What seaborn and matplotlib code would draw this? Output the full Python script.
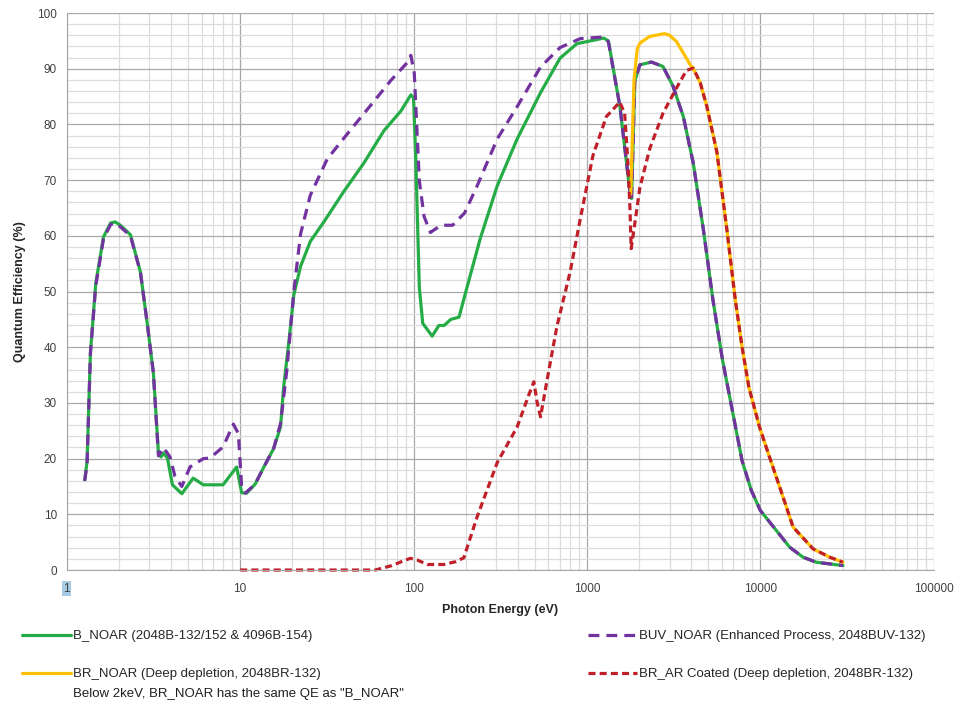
import pandas as pd
import seaborn as sns
import matplotlib.pyplot as plt
from matplotlib.ticker import MultipleLocator, LogLocator, NullFormatter

# photon energy (eV) / quantum efficiency (%)
b_noar_x = [1.27, 1.31, 1.37, 1.47, 1.63, 1.79, 1.9, 2.04, 2.33, 2.66, 2.92, 3.16, 3.38,
            3.5, 3.61, 3.81, 4.07, 4.61, 5.36, 6.13, 7.97, 9.55, 10.2, 10.9, 12.2, 13.6,
            15.6, 17.1, 17.8, 19.1, 20.4, 22.3, 25.4, 30.4, 39.7, 51.8, 67.6, 84.5, 96.5,
            100, 103, 108, 113, 128, 140, 150, 164, 183, 204, 243, 304, 396, 540, 700,
            876, 1250, 1330, 1550, 1780, 1809, 1888, 2019, 2357, 2745, 3135, 3597, 4107,
            4700, 5335, 6060, 6900, 7850, 8870, 10000, 12370, 14770, 17630, 21040, 29960]
b_noar_y = [16.2, 19.5, 39, 51.5, 59.8, 62.3, 62.5, 61.9, 60.2, 53.5, 44, 35.4, 21,
            20.3, 21, 20.1, 15.3, 13.7, 16.5, 15.3, 15.3, 18.5, 13.9, 13.8, 15.4, 18.3,
            21.8, 25.7, 32.7, 41, 49.4, 54.5, 59, 62.5, 68, 73.1, 78.9, 82.4, 85.3,
            84.8, 74, 50.7, 44.3, 42, 43.9, 43.9, 45, 45.4, 50.9, 59.6, 69, 77.4, 85.7, 91.9,
            94.5, 95.5, 95, 83.2, 67.3, 66.7, 87.8, 90.7, 91.2, 90.4, 86.9, 81.4, 73,
            61, 48.4, 37.6, 28.6, 19.6, 14.3, 10.7, 7.1, 4.1, 2.3, 1.4, 0.8]

buv_noar_x = [1.27, 1.31, 1.37, 1.47, 1.63, 1.79, 1.9, 2.04, 2.33, 2.66, 2.92, 3.16, 3.38,
              3.61, 3.94, 4.21, 4.61, 5.14, 6.14, 6.7, 7.97, 9.14, 9.77, 10.2, 10.7, 12.2,
              13.6, 15.6, 17.1, 18.6, 20.4, 22.3, 25.4, 31.8, 41.5, 56.5, 74, 92, 96.5,
              101, 105, 108, 115, 125, 144, 168, 197, 233, 304, 396, 540, 700, 915, 1250,
              1330, 1550, 1780, 1809, 1888, 2019, 2357, 2745, 3135, 3597, 4107, 4700, 5335,
              6060, 6900, 7850, 8870, 10000, 12370, 14770, 17630, 21040, 29960]
buv_noar_y = [16, 19, 39, 51, 59.5, 62, 62.3, 61.6, 60, 53.5, 44, 35.4, 20.5,
              22, 20.3, 16.8, 15, 18.5, 20, 20.1, 22.1, 26.2, 24.5, 15, 13.8, 15.4,
              18.3, 21.8, 26.3, 35.9, 50, 60.3, 67.3, 73.8, 78.3, 83.4, 87.9, 91.1, 92.4,
              89.2, 78, 69.9, 63.5, 60.6, 61.9, 61.9, 64.1, 69, 77.4, 83.2, 90.3, 93.8, 95.4, 95.7,
              94.8, 83.2, 67.3, 66.7, 87.8, 90.7, 91.2, 90.4, 86.9, 81.4, 73, 61, 48.4,
              37.6, 28.6, 19.6, 14.3, 10.7, 7.1, 4.1, 2.3, 1.4, 0.8]

br_noar_x = [1790, 1830, 1870, 1950, 2019, 2300, 2805, 3000, 3280, 3600, 3925, 4107, 4500,
             4910, 5620, 6420, 7180, 7850, 8590, 9910, 11320, 12930, 15460, 20150, 25160, 29960]
br_noar_y = [67.5, 78, 88, 93.5, 94.6, 95.8, 96.3, 96, 94.9, 92.8, 90.8, 90, 87.5,
             83.3, 75, 61, 48.4, 40, 32.8, 25.6, 20.2, 14.9, 7.7, 3.8, 2.3, 1.4]

br_ar_x = [10, 20, 40, 60, 75, 90, 96, 105, 120, 150, 175, 195, 233, 304, 396, 463, 494,
           517, 540, 589, 672, 800, 915, 1083, 1294, 1545, 1650, 1724, 1770, 1800, 1888,
           2019, 2300, 2745, 3280, 3750, 4107, 4500, 4910, 5620, 6420, 7180, 7850, 8590,
           9910, 11320, 12930, 15460, 20150, 25160, 29960]
br_ar_y = [0, 0, 0, 0, 0.8, 1.8, 2.1, 1.8, 1.0, 1.0, 1.5, 2.2, 9.6, 19.3, 25.7, 31.5, 33.8,
           30, 27.5, 34.1, 43.8, 53.5, 63, 74.4, 81.4, 84, 82, 73.1, 65, 57.7, 62.2,
           68.6, 75.6, 82, 86.5, 89.7, 90.1, 87.5, 83.3, 75, 61, 48.4, 40, 32.8,
           25.6, 20.2, 14.9, 7.7, 3.8, 2.3, 1.4]

x_ticks = [1, 10, 100, 1000, 10000, 100000]
x_tick_labels = ['1', '10', '100', '1000', '10000', '100000']

sns.set_style('white')
plt.rcParams['font.family'] = ['Liberation Sans', 'DejaVu Sans']

fig, ax = plt.subplots(figsize=(9.56, 7.04), dpi=100)
fig.subplots_adjust(left=0.0698, right=0.9767, bottom=0.1903, top=0.9815)

lw = 2.3
joins = dict(solid_joinstyle='round', dash_joinstyle='round', solid_capstyle='round')
sns.lineplot(x=b_noar_x, y=b_noar_y, ax=ax, color='#26ac46', lw=lw, estimator=None, sort=False,
             label='B_NOAR (2048B-132/152 & 4096B-154)', **joins)
sns.lineplot(x=buv_noar_x, y=buv_noar_y, ax=ax, color='#7232a0', lw=lw, estimator=None, sort=False,
             linestyle=(0, (3.4, 2.2)), label='BUV_NOAR (Enhanced Process, 2048BUV-132)', **joins)
sns.lineplot(x=br_noar_x, y=br_noar_y, ax=ax, color='#ffc000', lw=lw, estimator=None, sort=False,
             label='BR_NOAR (Deep depletion, 2048BR-132)', **joins)
sns.lineplot(x=br_ar_x, y=br_ar_y, ax=ax, color='#c0202a', lw=lw, estimator=None, sort=False,
             linestyle=(0, (2.2, 1.3)), clip_on=False,
             label='BR_AR Coated (Deep depletion, 2048BR-132)', **joins)
ax.get_legend().remove()

ax.set_xscale('log')
ax.set_xlim(1, 100000)
ax.set_ylim(0, 100)
ax.set_xticks(x_ticks)
ax.set_xticklabels(x_tick_labels)
ax.xaxis.set_minor_locator(LogLocator(base=10, subs=range(2, 10), numticks=20))
ax.xaxis.set_minor_formatter(NullFormatter())
ax.yaxis.set_major_locator(MultipleLocator(10))
ax.yaxis.set_minor_locator(MultipleLocator(2))

ax.grid(which='major', color='#a8a8a8', lw=0.9)
ax.grid(which='minor', color='#dcdcdc', lw=0.9)
ax.set_axisbelow(True)
for s in ['top', 'right']:
    ax.spines[s].set_visible(False)
for s in ['left', 'bottom']:
    ax.spines[s].set_color('#a6a6a6')
ax.tick_params(which='major', length=4, color='#a6a6a6', labelsize=8.5, labelcolor='#404040', pad=3)
ax.tick_params(which='minor', length=0)
ax.tick_params(axis='x', pad=5)
ax.get_xticklabels()[0].set_bbox(dict(facecolor='#a6cbe3', edgecolor='none', pad=1))

ax.set_xlabel('Photon Energy (eV)', fontsize=9, fontweight='bold', labelpad=7)
ax.set_ylabel('Quantum Efficiency (%)', fontsize=9, fontweight='bold', labelpad=8)

h, l = ax.get_legend_handles_labels()
leg_kw = dict(frameon=False, fontsize=9.5, handlelength=3.7, handletextpad=0.15,
              labelspacing=1.95, borderpad=0, borderaxespad=0, loc='upper left')
leg1 = fig.legend([h[0], h[2]], [l[0], l[2]], bbox_to_anchor=(22 / 956, 1 - 630 / 704), **leg_kw)
leg2 = fig.legend([h[1], h[3]], [l[1], l[3]], bbox_to_anchor=(588 / 956, 1 - 630 / 704), **leg_kw)

fig.text(73 / 956, 1 - 694 / 704, 'Below 2keV, BR_NOAR has the same QE as "B_NOAR"',
         fontsize=9.5, va='center', ha='left', color='#202020')

plt.savefig('out.png', dpi=100)
